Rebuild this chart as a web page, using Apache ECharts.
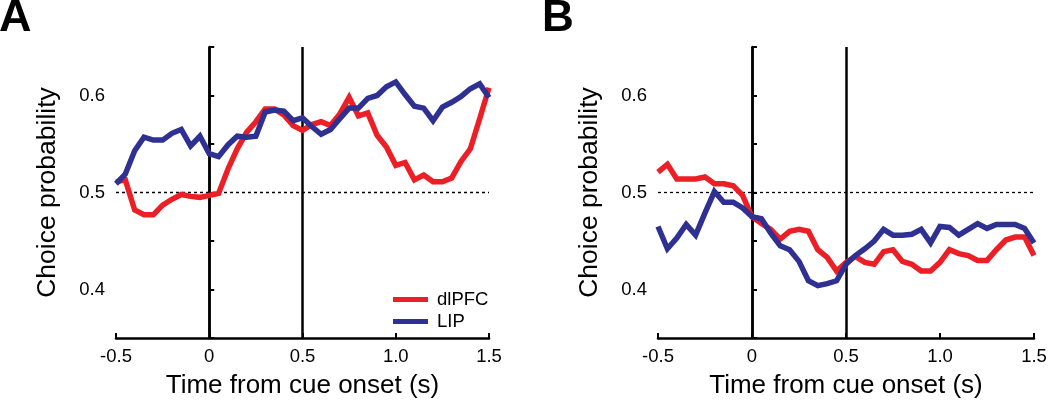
<!DOCTYPE html>
<html><head><meta charset="utf-8">
<script src="https://cdn.jsdelivr.net/npm/echarts@6/dist/echarts.min.js"></script>
<style>html,body{margin:0;padding:0;background:#fff}#c{width:1050px;height:404px}</style>
</head><body><div id="c"></div>
<script>
const times = [-0.5,-0.45,-0.4,-0.35,-0.3,-0.25,-0.2,-0.15,-0.1,-0.05,0,0.05,0.1,0.15,0.2,0.25,0.3,0.35,0.4,0.45,0.5,0.55,0.6,0.65,0.7,0.75,0.8,0.85,0.9,0.95,1.0,1.05,1.1,1.15,1.2,1.25,1.3,1.35,1.4,1.45,1.5];
const dlpfcA = [0.511,0.513,0.482,0.477,0.477,0.487,0.493,0.498,0.496,0.495,0.497,0.499,0.524,0.545,0.562,0.573,0.586,0.586,0.580,0.569,0.564,0.570,0.573,0.569,0.581,0.598,0.579,0.582,0.559,0.547,0.528,0.531,0.513,0.518,0.511,0.511,0.515,0.532,0.545,0.576,0.608];
const lipA = [0.509,0.519,0.543,0.557,0.554,0.554,0.561,0.565,0.548,0.558,0.540,0.537,0.549,0.558,0.557,0.558,0.583,0.585,0.584,0.574,0.577,0.568,0.560,0.565,0.576,0.587,0.587,0.597,0.600,0.609,0.614,0.601,0.589,0.587,0.574,0.588,0.593,0.599,0.607,0.612,0.598];
const dlpfcB = [0.521,0.529,0.514,0.514,0.514,0.516,0.509,0.509,0.507,0.497,0.475,0.468,0.462,0.452,0.460,0.462,0.460,0.441,0.433,0.419,0.428,0.434,0.428,0.426,0.439,0.441,0.429,0.426,0.419,0.419,0.428,0.441,0.437,0.435,0.430,0.430,0.441,0.451,0.454,0.454,0.435];
const lipB = [0.465,0.442,0.453,0.467,0.456,0.479,0.501,0.490,0.490,0.484,0.475,0.473,0.458,0.445,0.441,0.429,0.409,0.404,0.406,0.409,0.426,0.435,0.442,0.450,0.462,0.456,0.456,0.457,0.462,0.448,0.465,0.464,0.456,0.462,0.468,0.463,0.467,0.467,0.467,0.463,0.448];
const xTicks = [-0.5,0,0.5,1.0,1.5];
const yLabels = [0.4,0.5,0.6];
const seriesNames = ['dlPFC','LIP'];
const cueLines = [0,0.5];
const chanceLevel = 0.5;

const RED = '#EC1F27', BLUE = '#2E3192';
const FONT = 'Liberation Sans, Arial, sans-serif';
const pair = a => times.map((t,i)=>[t,a[i]]);

function xAxis(idx){
  return {type:'value', gridIndex:idx, min:-0.5, max:1.5, interval:0.5,
    name:'Time from cue onset (s)', nameLocation:'middle', nameGap:35,
    nameTextStyle:{fontSize:26,color:'#000',fontFamily:FONT},
    axisLine:{lineStyle:{color:'#000',width:2.5}},
    axisTick:{inside:true,length:5,lineStyle:{color:'#000',width:2}},
    axisLabel:{fontSize:18.5,color:'#000',fontFamily:FONT,margin:9,
      formatter:v=>{const m=xTicks.find(t=>Math.abs(t-v)<1e-6); return m===undefined?'':(m===0?'0':m.toFixed(1));}},
    splitLine:{show:false}};
}
function yAxis(idx){
  return {type:'value', gridIndex:idx, min:0.35, max:0.65, interval:0.05,
    name:'Choice probability', nameLocation:'middle', nameGap:55, nameRotate:90,
    nameTextStyle:{fontSize:26.5,color:'#000',fontFamily:FONT},
    axisLine:{lineStyle:{color:'#000',width:2.5}},
    axisTick:{inside:true,length:5,lineStyle:{color:'#000',width:2}},
    axisLabel:{fontSize:18.5,color:'#000',fontFamily:FONT,margin:11, showMinLabel:true, showMaxLabel:true,
      formatter:v=>{const m=yLabels.find(t=>Math.abs(t-v)<1e-6); return m===undefined?'':m.toFixed(1);}},
    splitLine:{show:false}};
}
function refLines(){
  return {silent:true, symbol:'none', label:{show:false}, animation:false,
    data:[
      ...cueLines.map(x=>({xAxis:x, lineStyle:{color:'#000',width:2.5,type:'solid'}})),
      {yAxis:chanceLevel, lineStyle:{color:'#000',width:1.3,type:[3,3]}}
    ]};
}
function line(name,data,color,xi,withRef){
  const s = {name, type:'line', xAxisIndex:xi, yAxisIndex:xi, data:pair(data), showSymbol:false,
    lineStyle:{color,width:5.5,join:'miter'}, itemStyle:{color}, z:5, animation:false};
  if(withRef) s.markLine = refLines();
  return s;
}
const chart = echarts.init(document.getElementById('c'));
chart.setOption({
  animation:false,
  grid:[{left:116,right:561,top:47,bottom:62},{left:658,right:16,top:47,bottom:62}],
  xAxis:[xAxis(0),xAxis(1)],
  yAxis:[yAxis(0),yAxis(1)],
  legend:{left:388,top:285,orient:'vertical',itemGap:3,itemWidth:35,itemHeight:5,icon:'rect',
    textStyle:{fontSize:18.5,color:'#000',fontFamily:FONT,padding:[0,0,0,4]},data:seriesNames},
  graphic:[
    {type:'text',left:-1,top:-4,style:{text:'A',font:'bold 45px '+FONT,fill:'#000'}},
    {type:'text',left:542,top:-3,style:{text:'B',font:'bold 44px '+FONT,fill:'#000'}}
  ],
  series:[
    line(seriesNames[0],dlpfcA,RED,0,true),
    line(seriesNames[1],lipA,BLUE,0,false),
    line(seriesNames[0],dlpfcB,RED,1,true),
    line(seriesNames[1],lipB,BLUE,1,false)
  ]
});
</script></body></html>
